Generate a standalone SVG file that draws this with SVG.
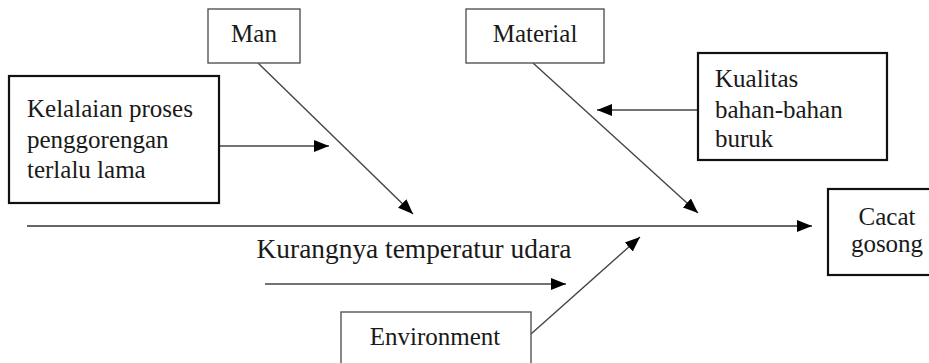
<svg xmlns="http://www.w3.org/2000/svg" width="929" height="363" viewBox="0 0 929 363">
<style>
text{font-family:"Liberation Serif","Times New Roman",serif;fill:#1a1a1a;font-size:25px}
text.big{font-size:27.4px}
.thin{fill:#fff;stroke:#555;stroke-width:1.4}
.thick{fill:#fff;stroke:#111;stroke-width:2.2}
.ln{stroke:#444;stroke-width:1.4;fill:none}
.spine{stroke:#666;stroke-width:2.2;fill:none}
</style>
<defs>
<marker id="ah" markerUnits="userSpaceOnUse" markerWidth="16" markerHeight="14" viewBox="0 0 16 14" refX="15" refY="7" orient="auto">
<path d="M0,1 L15,7 L0,13 Z" fill="#000"/>
</marker>
</defs>
<rect width="929" height="363" fill="#fff"/>
<g id="connectors">
<line class="spine" x1="27" y1="226" x2="812" y2="226" marker-end="url(#ah)"/>
<line class="ln" x1="258" y1="63" x2="413" y2="214" marker-end="url(#ah)"/>
<line class="ln" x1="533" y1="63" x2="698" y2="213" marker-end="url(#ah)"/>
<line class="ln" x1="531" y1="334" x2="640" y2="237" marker-end="url(#ah)"/>
<line class="ln" x1="219" y1="146" x2="329" y2="146" marker-end="url(#ah)"/>
<line class="ln" x1="698" y1="110" x2="597" y2="110" marker-end="url(#ah)"/>
<line class="ln" x1="265" y1="284" x2="566" y2="284" marker-end="url(#ah)"/>
</g>
<g id="man">
<rect class="thin" x="208" y="9" width="92" height="54"/>
<text x="254" y="42" text-anchor="middle">Man</text>
</g>
<g id="material">
<rect class="thin" x="466" y="9" width="138" height="54"/>
<text x="535" y="42" text-anchor="middle">Material</text>
</g>
<g id="kelalaian">
<rect class="thick" x="9" y="76" width="210" height="127"/>
<text x="27" y="117">Kelalaian proses</text>
<text x="27" y="148">penggorengan</text>
<text x="27" y="178">terlalu lama</text>
</g>
<g id="kualitas">
<rect class="thick" x="698" y="53" width="189" height="107"/>
<text x="715" y="87">Kualitas</text>
<text x="715" y="118">bahan-bahan</text>
<text x="715" y="147">buruk</text>
</g>
<g id="cacat">
<rect class="thick" x="828" y="189" width="105" height="86"/>
<text x="887" y="225" text-anchor="middle">Cacat</text>
<text x="887" y="252" text-anchor="middle">gosong</text>
</g>
<g id="kurangnya">
<text class="big" x="414" y="258" text-anchor="middle">Kurangnya temperatur udara</text>
</g>
<g id="environment">
<rect class="thin" x="341" y="312" width="190" height="60"/>
<text x="435" y="345" text-anchor="middle">Environment</text>
</g>
</svg>
